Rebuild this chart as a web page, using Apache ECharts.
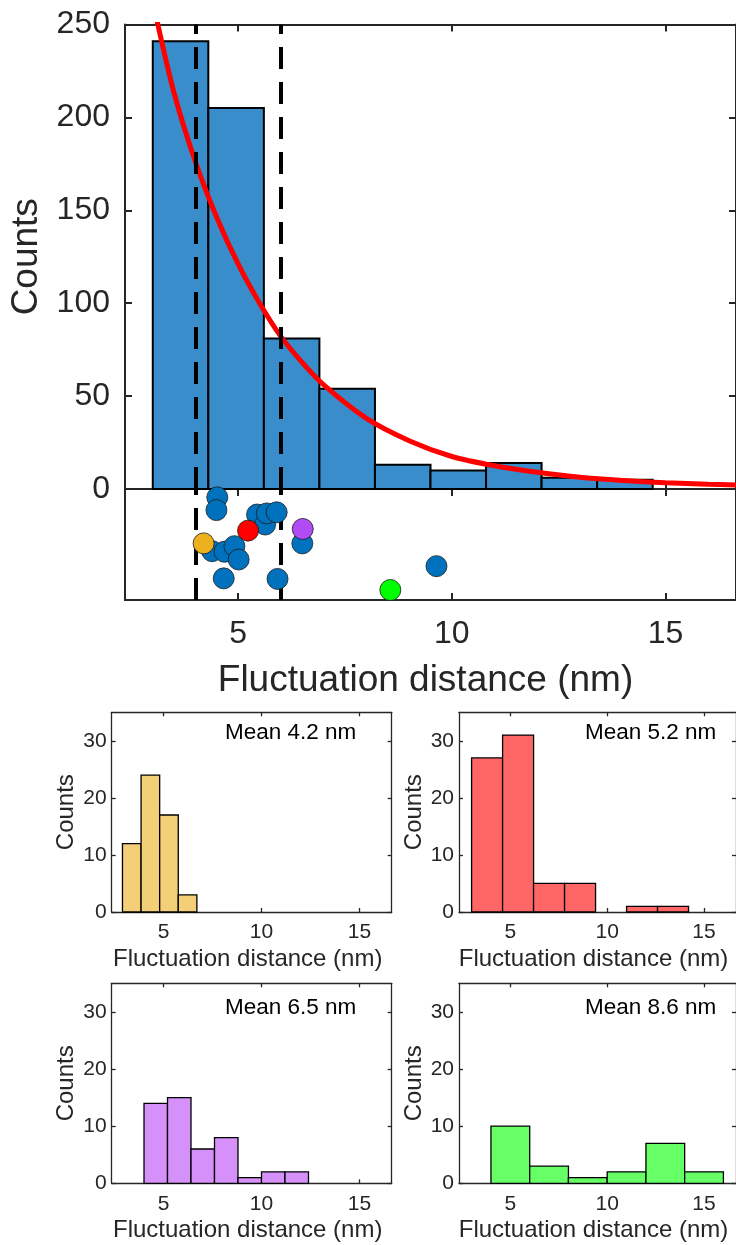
<!DOCTYPE html>
<html>
<head>
<meta charset="utf-8">
<script src="https://cdn.jsdelivr.net/npm/echarts@6/dist/echarts.min.js"></script>
<style>
  html, body { margin: 0; padding: 0; background: #fff; }
  #chart { width: 736px; height: 1245px; }
</style>
</head>
<body>
<div id="chart"></div>
<script>
// main histogram, all traces
const mainEdges = [3.0, 4.3, 5.6, 6.9, 8.2, 9.5, 10.8, 12.1, 13.4, 14.7]
const mainCounts = [241, 205, 81, 54, 13, 10, 14, 6, 5]
// red fit curve
const fitX = [3.1, 3.5, 4.0, 4.5, 5.0, 5.5, 6.0, 6.5, 7.0, 8.0, 9.0, 10.0, 11.0, 12.0, 13.0, 14.0, 15.0, 16.0, 16.65]
const fitY = [252, 213, 176, 146, 121, 100, 82, 68, 56, 38, 26, 17.5, 12.5, 9, 6.3, 4.6, 3.4, 2.6, 2.2]
const thresholds = [4, 6]

// per-trace means in the strip under the histogram (y is only jitter)
const blueX = [4.51, 4.49, 4.39, 4.68, 4.91, 5.01, 4.66, 5.44, 5.63, 5.67, 5.90, 5.92, 6.50, 9.64]
const blueJitter = [0.925, 0.81, 0.44, 0.435, 0.485, 0.365, 0.195, 0.77, 0.68, 0.78, 0.79, 0.19, 0.51, 0.305]
const pickedX = [4.19, 5.23, 6.51, 8.56]
const pickedJitter = [0.51, 0.625, 0.64, 0.09]
const pickedColors = ['#EDB120', '#FF0000', '#B14CF5', '#00FF00']

// the four small histograms
const smallMeans = ['Mean 4.2 nm', 'Mean 5.2 nm', 'Mean 6.5 nm', 'Mean 8.6 nm']
const smallColors = ['#F3D077', '#FF6666', '#D690F9', '#66FF66']
const aEdges = [2.9, 3.85, 4.8, 5.75, 6.7]
const aCounts = [12, 24, 17, 3]
const bEdges = [3.0, 4.6, 6.2, 7.8, 9.4, 11.0, 12.6, 14.2]
const bCounts = [27, 31, 5, 5, 0, 1, 1]
const cEdges = [4.0, 5.2, 6.4, 7.6, 8.8, 10.0, 11.2, 12.4]
const cCounts = [14, 15, 6, 8, 1, 2, 2]
const dEdges = [4, 6, 8, 10, 12, 14, 16]
const dCounts = [10, 3, 1, 2, 7, 2]

const xTicks = [5, 10, 15]
const mainYTicks = [0, 50, 100, 150, 200, 250]
const smallYTicks = [0, 10, 20, 30]

const ink = '#262626'
const font = "'Liberation Sans', Arial, Helvetica, sans-serif"

const grids = [
  { left: 125, top: 24.5, width: 615, height: 464.5 },
  { left: 125, top: 489, width: 615, height: 111 },
  { left: 111.7, top: 712.3, width: 280, height: 199.7 },
  { left: 459, top: 712.3, width: 280, height: 199.7 },
  { left: 111.7, top: 983.3, width: 280, height: 200 },
  { left: 459, top: 983.3, width: 280, height: 200 }
]

const xAxes = []
const yAxes = []

function addAxes(g, o) {
  const line = { show: true, onZero: false, lineStyle: { color: ink, width: o.lw } }
  const tick = (vals, show) => ({ show: show, inside: true, length: o.tick, customValues: vals, lineStyle: { color: ink, width: o.lw } })
  const xBase = { type: 'value', gridIndex: g, min: 2.35, max: 16.65, axisLine: line, splitLine: { show: false } }
  xAxes.push(Object.assign({}, xBase, {
    position: 'bottom',
    axisTick: tick(xTicks, true),
    axisLabel: o.xLabels ? { show: true, customValues: xTicks, color: ink, fontSize: o.fs, margin: o.xMargin, fontFamily: font } : { show: false },
    name: o.xName || '',
    nameLocation: 'middle',
    nameGap: o.xNameGap,
    nameTextStyle: { color: ink, fontSize: o.nameFs, fontFamily: font, padding: [0, o.namePad || 0, 0, 0] }
  }))
  xAxes.push(Object.assign({}, xBase, { position: 'top', axisTick: tick(xTicks, true), axisLabel: { show: false } }))
  const yBase = { type: 'value', gridIndex: g, min: o.yMin, max: o.yMax, axisLine: line, splitLine: { show: false } }
  yAxes.push(Object.assign({}, yBase, {
    position: 'left',
    axisTick: tick(o.yTicks, !!o.yTicks),
    axisLabel: o.yTicks ? { show: true, customValues: o.yTicks, color: ink, fontSize: o.fs, margin: o.yMargin, fontFamily: font, padding: [o.yLabelDrop || 0, 0, 0, 0] } : { show: false },
    name: o.yName || '',
    nameLocation: 'middle',
    nameGap: o.yNameGap,
    nameTextStyle: { color: ink, fontSize: o.nameFs, fontFamily: font }
  }))
  yAxes.push(Object.assign({}, yBase, { position: 'right', axisTick: tick(o.yTicks, !!o.yTicks), axisLabel: { show: false } }))
}

// main panel: histogram on top, strip of means below
addAxes(0, { lw: 2, tick: 7, fs: 32, nameFs: 37, yMin: 0, yMax: 250, yTicks: mainYTicks, yMargin: 15, yLabelDrop: 6, yName: 'Counts', yNameGap: 76 })
addAxes(1, { lw: 2, tick: 7, fs: 32, nameFs: 37, yMin: 0, yMax: 1, xLabels: true, xMargin: 18, xName: 'Fluctuation distance (nm)', xNameGap: 62, namePad: 10 })
for (let g = 2; g < 6; g++) {
  addAxes(g, { lw: 1.3, tick: 4, fs: 21, nameFs: 24, yMin: 0, yMax: 35, yTicks: smallYTicks, yMargin: 5, yName: 'Counts', yNameGap: 33,
    xLabels: true, xMargin: 10, xName: 'Fluctuation distance (nm)', xNameGap: 35, namePad: 8 })
}

function histSeries(g, edges, counts, color, lw) {
  const data = []
  counts.forEach((c, i) => { if (c > 0) data.push([edges[i], edges[i + 1], c]) })
  return {
    type: 'custom',
    xAxisIndex: 2 * g,
    yAxisIndex: 2 * g,
    data: data,
    encode: { x: [0, 1], y: 2 },
    silent: true,
    renderItem: function (params, api) {
      const a = api.coord([api.value(0), api.value(2)])
      const b = api.coord([api.value(1), 0])
      return {
        type: 'rect',
        shape: { x: a[0], y: a[1], width: b[0] - a[0], height: b[1] - a[1] },
        style: { fill: color, stroke: '#000', lineWidth: lw }
      }
    }
  }
}

const dashed = {
  silent: true,
  symbol: ['none', 'none'],
  label: { show: false },
  lineStyle: { type: [22, 13], color: '#000', width: 4 },
  data: thresholds.map(v => ({ xAxis: v }))
}

const series = [
  histSeries(0, mainEdges, mainCounts, '#388DCA', 2),
  {
    type: 'line',
    xAxisIndex: 0,
    yAxisIndex: 0,
    data: fitX.map((x, i) => [x, fitY[i]]),
    smooth: 0.3,
    showSymbol: false,
    clip: true,
    lineStyle: { color: '#FF0000', width: 5 },
    z: 3,
    markLine: dashed
  },
  {
    type: 'line',
    xAxisIndex: 2,
    yAxisIndex: 2,
    data: [],
    markLine: dashed
  },
  {
    type: 'scatter',
    xAxisIndex: 2,
    yAxisIndex: 2,
    data: blueX.map((x, i) => [x, blueJitter[i]]),
    symbolSize: 21,
    clip: false,
    itemStyle: { color: '#0072BD', borderColor: '#1a1a1a', borderWidth: 0.8, opacity: 1 },
    z: 10
  },
  {
    type: 'scatter',
    xAxisIndex: 2,
    yAxisIndex: 2,
    data: pickedX.map((x, i) => ({ value: [x, pickedJitter[i]], itemStyle: { color: pickedColors[i] } })),
    symbolSize: 21,
    clip: false,
    itemStyle: { borderColor: '#1a1a1a', borderWidth: 0.8, opacity: 1 },
    z: 11
  },
  histSeries(2, aEdges, aCounts, smallColors[0], 1.3),
  histSeries(3, bEdges, bCounts, smallColors[1], 1.3),
  histSeries(4, cEdges, cCounts, smallColors[2], 1.3),
  histSeries(5, dEdges, dCounts, smallColors[3], 1.3)
]

const meanPos = [[225, 733], [585, 733], [225, 1008], [585, 1008]]
const graphic = smallMeans.map((t, i) => ({
  type: 'text',
  x: meanPos[i][0],
  y: meanPos[i][1],
  style: { text: t, fill: '#000', font: '22.5px ' + font, textVerticalAlign: 'middle' }
}))

const chart = echarts.init(document.getElementById('chart'), null, { renderer: 'canvas' })
chart.setOption({
  animation: false,
  backgroundColor: '#fff',
  textStyle: { fontFamily: font },
  grid: grids,
  xAxis: xAxes,
  yAxis: yAxes,
  series: series,
  graphic: graphic
})
</script>
</body>
</html>
